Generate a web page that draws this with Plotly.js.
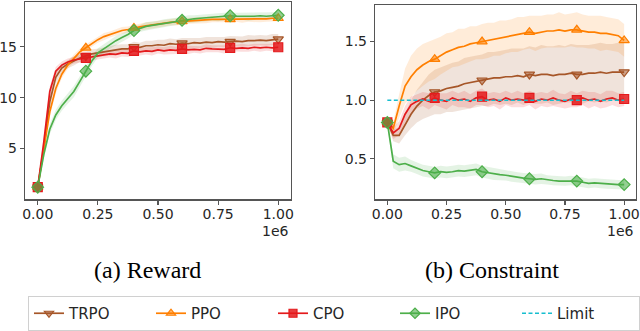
<!DOCTYPE html>
<html>
<head>
<meta charset="utf-8">
<script src="https://cdn.plot.ly/plotly-3.0.1.min.js"></script>
<style>
  body { margin: 0; background: #fff; }
  #chart { width: 640px; height: 331px; }
</style>
</head>
<body>
<div id="chart"></div>
<script>
// environment steps (x 1e6)
const steps = [0, 0.025, 0.05, 0.075, 0.1, 0.125, 0.15, 0.175, 0.2, 0.225,
  0.25, 0.275, 0.3, 0.325, 0.35, 0.375, 0.4, 0.425, 0.45, 0.475,
  0.5, 0.525, 0.55, 0.575, 0.6, 0.625, 0.65, 0.675, 0.7, 0.725,
  0.75, 0.775, 0.8, 0.825, 0.85, 0.875, 0.9, 0.925, 0.95, 0.975, 1.0];

// (a) reward
const trpoReward = [1.2, 5.0, 9.6, 12.0, 12.9, 13.3, 13.6, 13.9, 14.1, 14.3,
  14.4, 14.5, 14.6, 14.7, 14.8, 14.8, 15.0, 14.95, 15.1, 15.1,
  15.2, 15.15, 15.3, 15.25, 15.35, 15.3, 15.4, 15.35, 15.45, 15.4,
  15.5, 15.45, 15.5, 15.55, 15.5, 15.6, 15.6, 15.65, 15.6, 15.7, 15.75];
const ppoReward = [1.2, 4.8, 8.6, 10.9, 12.3, 13.2, 13.9, 14.5, 14.9, 15.3,
  15.7, 16.0, 16.2, 16.4, 16.6, 16.7, 16.85, 16.95, 17.05, 17.15,
  17.25, 17.3, 17.4, 17.45, 17.5, 17.55, 17.6, 17.6, 17.65, 17.7,
  17.7, 17.7, 17.7, 17.75, 17.7, 17.75, 17.75, 17.7, 17.75, 17.8, 17.8];
const cpoReward = [1.2, 5.6, 10.6, 12.6, 13.2, 13.5, 13.7, 13.8, 13.9, 14.0,
  14.1, 14.2, 14.3, 14.25, 14.4, 14.35, 14.6, 14.5, 14.6, 14.55,
  14.7, 14.6, 14.7, 14.65, 14.8, 14.7, 14.75, 14.7, 14.85, 14.8,
  14.8, 14.75, 14.9, 14.85, 14.9, 14.85, 14.95, 14.9, 14.95, 14.9, 14.95];
const ipoReward = [1.2, 4.4, 6.9, 8.3, 9.2, 9.9, 10.6, 11.6, 12.6, 13.6,
  14.4, 14.8, 15.2, 15.6, 15.9, 16.2, 16.6, 16.8, 17.0, 17.1,
  17.2, 17.3, 17.4, 17.5, 17.6, 17.7, 17.75, 17.8, 17.85, 17.9,
  17.9, 17.95, 18.05, 18.0, 18.0, 17.95, 18.0, 18.05, 18.0, 18.05, 18.1];

const trpoRewardSd = [0.2, 0.5, 0.6, 0.5, 0.4, 0.4, 0.45, 0.4, 0.4, 0.45,
  0.4, 0.45, 0.45, 0.5, 0.45, 0.45, 0.5, 0.45, 0.5, 0.5,
  0.5, 0.55, 0.5, 0.5, 0.5, 0.55, 0.5, 0.5, 0.5, 0.55,
  0.5, 0.5, 0.55, 0.5, 0.5, 0.55, 0.5, 0.5, 0.5, 0.55, 0.5];
const ppoRewardSd = [0.2, 0.4, 0.5, 0.5, 0.4, 0.35, 0.35, 0.3, 0.35, 0.3,
  0.3, 0.35, 0.3, 0.3, 0.35, 0.3, 0.3, 0.3, 0.35, 0.3,
  0.3, 0.3, 0.3, 0.35, 0.3, 0.3, 0.3, 0.3, 0.35, 0.3,
  0.3, 0.3, 0.3, 0.3, 0.35, 0.3, 0.3, 0.3, 0.3, 0.3, 0.3];
const cpoRewardSd = [0.2, 0.5, 0.5, 0.4, 0.35, 0.35, 0.35, 0.4, 0.35, 0.35,
  0.4, 0.35, 0.35, 0.4, 0.35, 0.35, 0.4, 0.35, 0.35, 0.4,
  0.35, 0.35, 0.4, 0.35, 0.35, 0.4, 0.35, 0.35, 0.4, 0.35,
  0.35, 0.4, 0.35, 0.35, 0.4, 0.35, 0.35, 0.4, 0.35, 0.35, 0.35];
const ipoRewardSd = [0.2, 0.4, 0.5, 0.5, 0.5, 0.5, 0.55, 0.5, 0.5, 0.5,
  0.45, 0.45, 0.4, 0.45, 0.4, 0.4, 0.4, 0.35, 0.4, 0.35,
  0.35, 0.4, 0.35, 0.35, 0.35, 0.4, 0.35, 0.35, 0.35, 0.35,
  0.4, 0.35, 0.35, 0.35, 0.35, 0.4, 0.35, 0.35, 0.35, 0.35, 0.35];

// (b) constraint
const trpoCost = [0.81, 0.70, 0.70, 0.79, 0.88, 0.95, 1.00, 1.04, 1.07, 1.08,
  1.10, 1.11, 1.12, 1.14, 1.15, 1.16, 1.17, 1.18, 1.19, 1.19,
  1.20, 1.20, 1.21, 1.20, 1.22, 1.21, 1.22, 1.22, 1.21, 1.22,
  1.22, 1.23, 1.22, 1.22, 1.23, 1.23, 1.24, 1.23, 1.24, 1.24, 1.24];
const ppoCost = [0.81, 0.76, 0.95, 1.12, 1.20, 1.26, 1.30, 1.33, 1.35, 1.38,
  1.41, 1.43, 1.45, 1.46, 1.48, 1.49, 1.50, 1.51, 1.52, 1.53,
  1.54, 1.55, 1.56, 1.57, 1.58, 1.57, 1.58, 1.59, 1.59, 1.60,
  1.59, 1.60, 1.60, 1.59, 1.58, 1.58, 1.57, 1.57, 1.56, 1.55, 1.51];
const cpoCost = [0.81, 0.72, 0.76, 0.88, 0.96, 0.99, 1.01, 0.99, 1.02, 1.00,
  0.99, 1.02, 1.00, 1.01, 0.99, 1.02, 1.03, 1.00, 1.01, 0.99,
  1.02, 1.00, 1.01, 1.00, 1.02, 0.99, 1.01, 1.00, 1.02, 1.00,
  0.99, 1.01, 1.00, 1.02, 1.00, 1.01, 0.99, 1.01, 1.02, 1.00, 1.01];
const ipoCost = [0.81, 0.48, 0.45, 0.46, 0.44, 0.42, 0.40, 0.39, 0.38, 0.39,
  0.385, 0.39, 0.40, 0.395, 0.40, 0.41, 0.39, 0.38, 0.37, 0.365,
  0.36, 0.35, 0.34, 0.335, 0.33, 0.325, 0.33, 0.32, 0.315, 0.31,
  0.31, 0.315, 0.31, 0.30, 0.29, 0.295, 0.29, 0.285, 0.28, 0.28, 0.28];
const limitCost = [1.0, 1.0];
const limitSteps = [0, 1.0];

const trpoCostSd = [0.02, 0.05, 0.07, 0.09, 0.12, 0.14, 0.16, 0.18, 0.19, 0.2,
  0.2, 0.21, 0.21, 0.22, 0.22, 0.22, 0.22, 0.23, 0.22, 0.23,
  0.23, 0.24, 0.23, 0.24, 0.24, 0.24, 0.25, 0.24, 0.25, 0.25,
  0.24, 0.25, 0.25, 0.25, 0.24, 0.25, 0.25, 0.25, 0.24, 0.25, 0.25];
const ppoCostSd = [0.02, 0.05, 0.1, 0.15, 0.18, 0.18, 0.18, 0.17, 0.17, 0.16,
  0.16, 0.15, 0.16, 0.15, 0.15, 0.14, 0.15, 0.15, 0.14, 0.15,
  0.14, 0.14, 0.15, 0.14, 0.14, 0.15, 0.14, 0.14, 0.14, 0.15,
  0.14, 0.14, 0.15, 0.14, 0.14, 0.14, 0.15, 0.14, 0.14, 0.14, 0.14];
const cpoCostSd = [0.02, 0.05, 0.06, 0.07, 0.07, 0.06, 0.06, 0.07, 0.06, 0.06,
  0.07, 0.06, 0.06, 0.07, 0.06, 0.06, 0.07, 0.06, 0.06, 0.07,
  0.06, 0.06, 0.07, 0.06, 0.06, 0.07, 0.06, 0.06, 0.07, 0.06,
  0.06, 0.07, 0.06, 0.06, 0.07, 0.06, 0.06, 0.07, 0.06, 0.06, 0.06];
const ipoCostSd = [0.02, 0.06, 0.06, 0.06, 0.05, 0.05, 0.05, 0.05, 0.05, 0.05,
  0.05, 0.05, 0.05, 0.05, 0.05, 0.05, 0.05, 0.05, 0.05, 0.05,
  0.045, 0.045, 0.045, 0.045, 0.045, 0.045, 0.045, 0.04, 0.04, 0.04,
  0.04, 0.04, 0.04, 0.04, 0.04, 0.04, 0.04, 0.04, 0.04, 0.04, 0.04];

const xTicks = [0, 0.25, 0.5, 0.75, 1.0];
const xTickText = ['0.00', '0.25', '0.50', '0.75', '1.00'];
const rewardTicks = [5, 10, 15];
const costTicks = [0.5, 1.0, 1.5];
const costTickText = ['0.5', '1.0', '1.5'];

const algos = [
  {name: 'TRPO', color: '#a65628', fill: 'rgba(166,86,40,0.17)', mfill: 'rgba(166,86,40,0.55)', symbol: 'triangle-down', r: trpoReward, rs: trpoRewardSd, c: trpoCost, cs: trpoCostSd},
  {name: 'PPO', color: '#ff7f00', fill: 'rgba(255,127,0,0.15)', mfill: 'rgba(255,127,0,0.55)', symbol: 'triangle-up', r: ppoReward, rs: ppoRewardSd, c: ppoCost, cs: ppoCostSd},
  {name: 'CPO', color: '#e41a1c', fill: 'rgba(228,26,28,0.15)', mfill: 'rgba(228,26,28,0.85)', symbol: 'square', r: cpoReward, rs: cpoRewardSd, c: cpoCost, cs: cpoCostSd},
  {name: 'IPO', color: '#4daf4a', fill: 'rgba(77,175,74,0.15)', mfill: 'rgba(77,175,74,0.6)', symbol: 'diamond', r: ipoReward, rs: ipoRewardSd, c: ipoCost, cs: ipoCostSd}
];

function band(ys, sd, fillcolor, xa, ya) {
  var hi = ys.map(function (v, i) { return v + sd[i]; });
  var lo = ys.map(function (v, i) { return v - sd[i]; }).reverse();
  return {x: steps.concat(steps.slice().reverse()), y: hi.concat(lo), xaxis: xa, yaxis: ya,
    fill: 'toself', fillcolor: fillcolor, line: {width: 0}, mode: 'lines',
    hoverinfo: 'skip', showlegend: false};
}

var bands = [], lines = [], marks = [], legendOnly = [];
var markIdx = steps.map(function (s, i) { return i; }).filter(function (i) { return i % 8 == 0; });

algos.forEach(function (a) {
  [['x', 'y', a.r, a.rs], ['x2', 'y2', a.c, a.cs]].forEach(function (p) {
    bands.push(band(p[2], p[3], a.fill, p[0], p[1]));
    lines.push({x: steps, y: p[2], xaxis: p[0], yaxis: p[1], mode: 'lines',
      line: {color: a.color, width: 1.7}, showlegend: false});
    marks.push({x: markIdx.map(function (i) { return steps[i]; }), y: markIdx.map(function (i) { return p[2][i]; }),
      xaxis: p[0], yaxis: p[1], mode: 'markers', showlegend: false,
      marker: {symbol: a.symbol, size: 9, color: a.mfill, line: {color: a.color, width: 1.2}}});
  });
  legendOnly.push({x: [null], y: [null], xaxis: 'x', yaxis: 'y', mode: 'lines+markers', name: a.name,
    line: {color: a.color, width: 1.7},
    marker: {symbol: a.symbol, size: 8, color: a.mfill, line: {color: a.color, width: 1.2}}});
});

var limitTrace = {x: limitSteps, y: limitCost, xaxis: 'x2', yaxis: 'y2', mode: 'lines', name: 'Limit',
  line: {color: '#17becf', width: 1.6, dash: '4px,2.5px'}};

var data = bands.concat(lines, marks, legendOnly, [limitTrace]);

var tickFont = {family: 'DejaVu Sans, sans-serif', size: 14, color: '#262626'};
var axisBase = {showgrid: false, zeroline: false, showline: true, mirror: true,
  linecolor: '#555', linewidth: 1.2, ticks: 'outside', ticklen: 4, tickwidth: 1.2,
  tickcolor: '#555', tickfont: tickFont, fixedrange: true};

var layout = {
  width: 640, height: 331,
  margin: {l: 0, r: 0, t: 0, b: 0},
  paper_bgcolor: '#fff', plot_bgcolor: '#fff',
  xaxis: Object.assign({}, axisBase, {domain: [25 / 640, 291 / 640], range: [-0.053, 1.053],
    tickvals: xTicks, ticktext: xTickText, anchor: 'y', ticklabelstandoff: -2}),
  yaxis: Object.assign({}, axisBase, {domain: [1 - 200 / 331, 1 - 2 / 331], range: [0, 19.4],
    tickvals: rewardTicks, anchor: 'x'}),
  xaxis2: Object.assign({}, axisBase, {domain: [375 / 640, 636 / 640], range: [-0.052, 1.05],
    tickvals: xTicks, ticktext: xTickText, anchor: 'y2', ticklabelstandoff: -2}),
  yaxis2: Object.assign({}, axisBase, {domain: [1 - 200 / 331, 1 - 5 / 331], range: [0.154, 1.812],
    tickvals: costTicks, ticktext: costTickText, anchor: 'x2'}),
  showlegend: true,
  legend: {orientation: 'h', x: 28 / 640, xanchor: 'left', y: 1 - 297 / 331, yanchor: 'top',
    bordercolor: '#d0d0d0', borderwidth: 1, bgcolor: '#fff',
    font: {family: 'DejaVu Sans, sans-serif', size: 15, color: '#262626'},
    entrywidth: 77, entrywidthmode: 'pixels', traceorder: 'normal'},
  annotations: [
    {text: '1e6', xref: 'paper', yref: 'paper', x: 291 / 640, y: 1 - 232 / 331, xanchor: 'right', yanchor: 'middle',
      showarrow: false, font: tickFont},
    {text: '1e6', xref: 'paper', yref: 'paper', x: 636 / 640, y: 1 - 232 / 331, xanchor: 'right', yanchor: 'middle',
      showarrow: false, font: tickFont},
    {text: '(a) Reward', xref: 'paper', yref: 'paper', x: 147 / 640, y: 1 - 271 / 331, xanchor: 'center', yanchor: 'middle',
      showarrow: false, font: {family: 'Liberation Serif, Times New Roman, serif', size: 24, color: '#000'}},
    {text: '(b) Constraint', xref: 'paper', yref: 'paper', x: 492 / 640, y: 1 - 271 / 331, xanchor: 'center', yanchor: 'middle',
      showarrow: false, font: {family: 'Liberation Serif, Times New Roman, serif', size: 24, color: '#000'}}
  ]
};

Plotly.newPlot('chart', data, layout, {displayModeBar: false, staticPlot: true});
</script>
</body>
</html>
